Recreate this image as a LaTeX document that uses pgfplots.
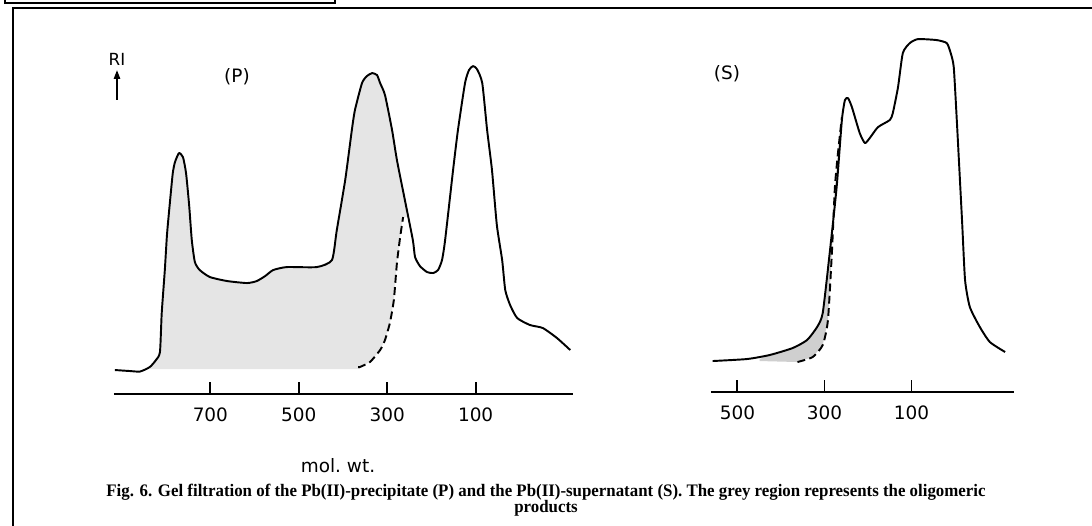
\documentclass[border=0pt]{standalone}
\usepackage{pgfplots}
\pgfplotsset{compat=1.18}
\usepackage{fontspec}
\setmainfont{DejaVu Sans}
\newfontfamily\capfont{Liberation Serif}
\usetikzlibrary{arrows.meta}
\pgfplotsset{
  gel/.style={
    scale only axis, clip=false,
    axis x line*=bottom, axis y line=none,
    x filter/.expression={-x},
    ymin=0, ymax=360, height=7.2cm,
    tick align=inside, major tick length=0.24cm,
    axis line style={line width=1.1pt},
    tick style={line width=1.1pt, black},
    xticklabel style={font=\fontsize{10.5}{12}\selectfont, yshift=-4.5pt},
  },
  curve/.style={black, line width=1.1pt, smooth, tension=0.35, line join=round},
  dashcurve/.style={black, line width=1.1pt, smooth, tension=0.35, dash pattern=on 4.5pt off 2.5pt},
}
\begin{document}
\begin{tikzpicture}[x=0.02cm,y=0.02cm]
\path[use as bounding box] (0,0) rectangle (1092,525);
% frame
\draw[line width=1.2pt] (13,-10) -- (13,517) -- (1100,517);
\draw[line width=1pt] (5,530) -- (5,522) -- (335,522) -- (335,530);

% ---------- panel P (x = mol. wt., plotted decreasing to the right) ----------
\begin{axis}[gel, at={(2.28cm,2.62cm)}, anchor=south west,
  width=9.18cm, xmin=-918, xmax=120,
  xtick={-700,-500,-300,-100}, xticklabels={700,500,300,100}]
\addplot[draw=none, fill=gray!20] coordinates {
(837,25) (837,27) (823,34) (814,42) (810,81) (803,124) (798,160) (791,194)
(785,221) (780,232) (771,241) (762,237) (755,221) (748,189) (742,154)
(735,132) (724,124) (701,117) (662,113) (617,111) (595,113) (576,118)
(558,124) (527,127) (459,127) (425,134) (414,164) (395,214) (380,264)
(373,284) (357,311) (346,318) (334,321) (323,319) (316,311) (305,299)
(289,264) (278,234) (260,194) (252,177) (264,177) (271,156) (278,131)
(285,94) (294,71) (305,54) (316,44) (339,32) (362,27) (362,25)} -- cycle;
\addplot[curve] coordinates {
(916,24) (882,23) (859,22.5) (837,27) (823,34) (814,42) (810,81) (803,124)
(798,160) (791,194) (785,221) (780,232) (771,241) (762,237) (755,221)
(748,189) (742,154) (735,132) (724,124) (701,117) (662,113) (617,111)
(595,113) (576,118) (558,124) (527,127) (459,127) (425,134) (414,164)
(395,214) (380,264) (373,284) (357,311) (346,318) (334,321) (323,319)
(316,311) (305,299) (289,264) (278,234) (260,194) (242,154) (237,137)
(226,128) (210,122) (196,121) (185,124) (176,134) (169,154) (151,224)
(140,264) (124,311) (115,324) (106,328) (97,325) (85,311) (74,264)
(63,224) (52,169) (40,134) (33,104) (22,89) (6,76) (-23,69) (-52,66)
(-84,56) (-114,44)};
\addplot[dashcurve] coordinates {
(366,27) (362,27) (339,32) (316,44) (305,54) (294,71) (285,94) (278,131)
(271,156) (264,177)};
\end{axis}

% ---------- panel S ----------
\begin{axis}[gel, at={(14.22cm,2.66cm)}, anchor=south west,
  width=6.06cm, xmin=-561, xmax=135,
  xtick={-500,-300,-100}, xticklabels={500,300,100}]
\addplot[draw=none, fill=gray!38] coordinates {
(449,33) (426,37) (373,44) (340,52) (317,65) (304,79) (288,139) (272,205)
(260,272) (269,239) (276,205) (283,139) (292,72) (304,47) (327,35)
(362,30) (449,31)} -- cycle;
\addplot[curve] coordinates {
(557,31) (478,33) (426,37) (373,44) (340,52) (317,65) (304,79) (288,139)
(272,205) (260,272) (253,292) (246,294) (237,285) (219,259) (207,249)
(196,254) (177,265) (150,272) (143,279) (131,305) (120,339) (104,349)
(85,353) (42,352) (19,349) (10,339) (3,325) (-4,272) (-16,172) (-23,112)
(-34,85) (-57,65) (-80,50) (-115,40)};
\addplot[dashcurve] coordinates {
(362,30) (327,35) (304,47) (292,72) (283,139) (276,205) (269,239) (260,275)};
\end{axis}

% ---------- texts ----------
\node[font=\fontsize{9.5}{11}\selectfont] at (117,466) {RI};
\draw[line width=1pt, -{Triangle[length=5pt,width=3.5pt]}] (117,425) -- (117,455);
\node[font=\fontsize{10.5}{12}\selectfont] at (237,448) {(P)};
\node[font=\fontsize{10.5}{12}\selectfont] at (727,451) {(S)};
\node[font=\fontsize{10.5}{12}\selectfont] at (338,59) {mol.\ wt.};
\node[font=\capfont\bfseries\fontsize{10}{12}\selectfont] at (546,33)
  {\scalebox{0.96}[1]{Fig. 6. Gel filtration of the Pb(II)-precipitate (P) and the Pb(II)-supernatant (S). The grey region represents the oligomeric}};
\node[font=\capfont\bfseries\fontsize{10}{12}\selectfont] at (546,17)
  {\scalebox{0.96}[1]{products}};
\end{tikzpicture}
\end{document}
